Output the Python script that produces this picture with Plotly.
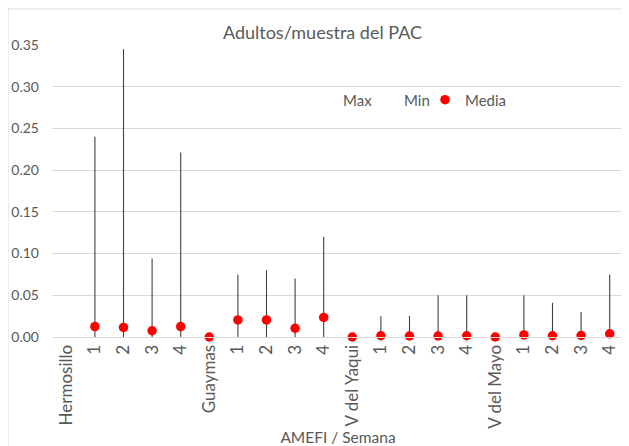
import plotly.graph_objects as go

categories = ["Hermosillo", "1", "2", "3", "4",
              "Guaymas", "1", "2", "3", "4",
              "V del Yaqui", "1", "2", "3", "4",
              "V del Mayo", "1", "2", "3", "4"]
max_vals = [None, 0.240, 0.345, 0.094, 0.221,
            0.0, 0.075, 0.080, 0.070, 0.120,
            0.0, 0.025, 0.025, 0.050, 0.050,
            0.0, 0.050, 0.041, 0.030, 0.075]
min_vals = [None, 0.0, 0.0, 0.0, 0.0,
            0.0, 0.0, 0.0, 0.0, 0.0,
            0.0, 0.0, 0.0, 0.0, 0.0,
            0.0, 0.0, 0.0, 0.0, 0.0]
media_vals = [None, 0.0125, 0.0115, 0.0075, 0.0125,
              0.0, 0.0205, 0.0205, 0.0105, 0.0235,
              0.0, 0.0015, 0.0012, 0.0012, 0.0015,
              0.0, 0.0025, 0.0015, 0.0018, 0.0038]
y_ticks = [0.0, 0.05, 0.10, 0.15, 0.20, 0.25, 0.30, 0.35]

xpos = list(range(len(categories)))
err_plus = [None if m is None else mx - m for m, mx in zip(media_vals, max_vals)]
err_minus = [None if m is None else m - mn for m, mn in zip(media_vals, min_vals)]

FONT = "Lato"
GREY = "#595959"

ML, MT, PW, PH = 44, 37, 572, 292


def px_x(fx):
    return (fx - ML) / PW


def px_y(fy):
    return (MT + PH - fy) / PH


fig = go.Figure()
fig.add_trace(go.Scatter(x=xpos, y=max_vals, name="Max", mode="markers",
                         marker=dict(size=1, color="rgba(0,0,0,0)"), hoverinfo="skip"))
fig.add_trace(go.Scatter(x=xpos, y=min_vals, name="Min", mode="markers",
                         marker=dict(size=1, color="rgba(0,0,0,0)"), hoverinfo="skip"))
fig.add_trace(go.Scatter(
    x=xpos, y=media_vals, name="Media", mode="markers", cliponaxis=False,
    marker=dict(size=9.5, color="#ff0000"),
    error_y=dict(type="data", symmetric=False, array=err_plus, arrayminus=err_minus,
                 color="#404040", thickness=1.1, width=0),
))
# empty spacer entry so the last legend label is not clipped
fig.add_trace(go.Scatter(x=[None], y=[None], name=" ", mode="markers",
                         marker=dict(size=1, color="rgba(0,0,0,0)"), hoverinfo="skip"))

fig.update_layout(
    width=629, height=446,
    margin=dict(l=ML, r=629 - ML - PW, t=MT, b=446 - MT - PH),
    paper_bgcolor="white", plot_bgcolor="white",
    font=dict(family=FONT, size=14, color=GREY),
    title=dict(text="Adultos/muestra del PAC", x=0.5, xanchor="center",
               y=0.944, yanchor="middle", font=dict(size=18, color=GREY, family=FONT)),
    showlegend=True,
    legend=dict(orientation="h", x=px_x(295), xanchor="left", y=0.812, yanchor="middle",
                bgcolor="rgba(0,0,0,0)", font=dict(size=15, color=GREY, family=FONT),
                itemwidth=30, entrywidth=16, entrywidthmode="pixels", traceorder="normal"),
    shapes=[
        dict(type="rect", xref="paper", yref="paper",
             x0=px_x(0), x1=px_x(660), y0=px_y(470), y1=px_y(1),
             line=dict(color="#d9d9d9", width=1), fillcolor="rgba(0,0,0,0)",
             layer="below"),
        dict(type="rect", xref="paper", yref="paper",
             x0=px_x(309), x1=px_x(503), y0=px_y(112), y1=px_y(70),
             line=dict(width=0), fillcolor="white", layer="between"),
    ],
)
fig.update_xaxes(
    range=[-0.5, len(categories) - 0.5], automargin=False,
    tickmode="array", tickvals=xpos, ticktext=categories,
    tickangle=-90, showgrid=False, zeroline=False,
    showline=True, linecolor="#d9d9d9", linewidth=1,
    ticks="", tickfont=dict(size=17, color=GREY, family=FONT),
    title=dict(text="AMEFI / Semana", font=dict(size=15.5, color=GREY, family=FONT), standoff=4),
)
fig.update_yaxes(
    range=[0, 0.35], tickmode="array", tickvals=y_ticks, automargin=False,
    tickformat=".2f", showgrid=True, gridcolor="#d9d9d9", gridwidth=1,
    zeroline=False, showline=False, ticks="",
    tickfont=dict(size=14, color=GREY, family=FONT),
    ticklabelstandoff=12,
)

fig.write_html("out.html")
